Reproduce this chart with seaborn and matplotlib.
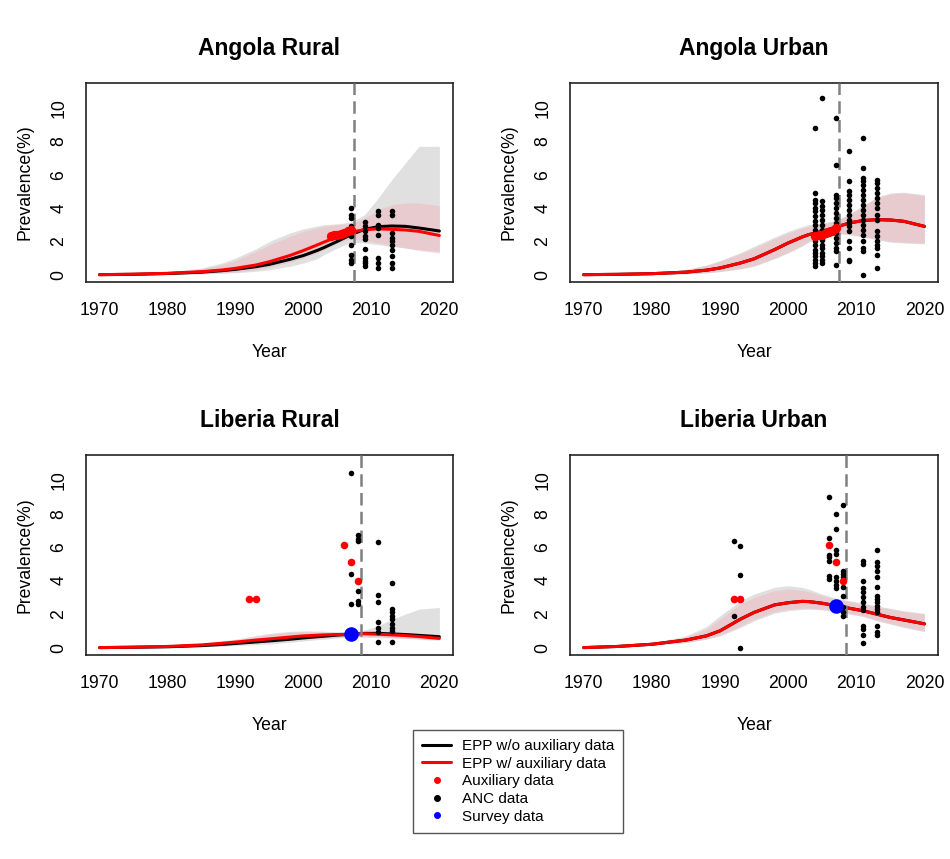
import matplotlib
matplotlib.use("Agg")
import matplotlib.pyplot as plt
from matplotlib.lines import Line2D
import pandas as pd
import seaborn as sns

fit_years = [1970, 1975, 1980, 1985, 1988, 1990, 1993, 1995, 1998, 2000,
             2002, 2003, 2005, 2007, 2009, 2011, 2013, 2015, 2017, 2020]

# ---- Angola Rural ----
ar_wo = [0, 0.02, 0.07, 0.15, 0.24, 0.32, 0.48, 0.62, 0.92, 1.15, 1.45, 1.62, 2.0, 2.4, 2.72, 2.88, 2.92, 2.9, 2.8, 2.62]
ar_w = [0, 0.03, 0.08, 0.18, 0.28, 0.38, 0.58, 0.78, 1.15, 1.45, 1.78, 1.95, 2.28, 2.55, 2.7, 2.75, 2.72, 2.68, 2.6, 2.35]
ar_wo_lo = [0, 0, 0.02, 0.05, 0.09, 0.12, 0.2, 0.3, 0.5, 0.7, 0.95, 1.2, 1.6, 1.95, 1.9, 1.8, 1.7, 1.6, 1.5, 1.4]
ar_wo_hi = [0, 0.05, 0.15, 0.4, 0.7, 1.0, 1.55, 2.0, 2.5, 2.75, 2.92, 3.0, 3.05, 3.15, 3.6, 4.6, 5.7, 6.7, 7.7, 7.7]
ar_w_lo = [0, 0, 0.02, 0.06, 0.1, 0.15, 0.3, 0.45, 0.75, 1.0, 1.3, 1.5, 1.9, 2.15, 2.05, 1.9, 1.75, 1.6, 1.45, 1.3]
ar_w_hi = [0, 0.05, 0.15, 0.35, 0.6, 0.85, 1.4, 1.8, 2.3, 2.6, 2.8, 2.9, 3.0, 3.05, 3.4, 3.9, 4.2, 4.3, 4.3, 4.15]
ar_anc_years = [2007, 2009, 2011, 2013]
ar_anc_prev = [
    [4.0, 3.6, 3.4, 2.9, 2.3, 1.8, 1.2, 0.9, 0.7],
    [3.15, 2.9, 2.6, 2.3, 2.15, 1.55, 1.0, 0.8, 0.7, 0.5],
    [3.8, 3.6, 3.0, 2.8, 2.4, 1.0, 0.7, 0.4],
    [3.8, 3.6, 2.5, 2.2, 2.0, 1.8, 1.5, 1.1, 0.7, 0.4],
]
ar_aux_years = [2004, 2004.5, 2005, 2005.5, 2006, 2006.5, 2007]
ar_aux_prev = [2.35, 2.38, 2.4, 2.45, 2.5, 2.6, 2.7]

# ---- Angola Urban ----
au_wo = [0, 0.02, 0.06, 0.15, 0.27, 0.4, 0.7, 0.95, 1.5, 1.9, 2.25, 2.4, 2.6, 2.85, 3.1, 3.25, 3.3, 3.28, 3.2, 2.9]
au_w = [0, 0.02, 0.06, 0.15, 0.27, 0.4, 0.7, 0.95, 1.5, 1.9, 2.25, 2.4, 2.6, 2.85, 3.1, 3.25, 3.3, 3.28, 3.2, 2.9]
au_wo_lo = [0, 0, 0.02, 0.05, 0.1, 0.18, 0.34, 0.5, 0.95, 1.3, 1.7, 1.95, 2.25, 2.45, 2.4, 2.25, 2.1, 1.95, 1.9, 1.85]
au_wo_hi = [0, 0.05, 0.13, 0.32, 0.58, 0.85, 1.32, 1.7, 2.25, 2.6, 2.88, 3.0, 3.1, 3.25, 3.65, 4.15, 4.65, 4.9, 4.95, 4.8]
au_w_lo = [0, 0, 0.02, 0.06, 0.12, 0.2, 0.38, 0.55, 1.0, 1.35, 1.75, 2.0, 2.3, 2.5, 2.45, 2.3, 2.15, 2.0, 1.95, 1.9]
au_w_hi = [0, 0.05, 0.12, 0.3, 0.55, 0.8, 1.25, 1.6, 2.15, 2.5, 2.78, 2.9, 3.05, 3.2, 3.6, 4.1, 4.6, 4.85, 4.9, 4.75]
au_anc_years = [2004, 2005, 2007, 2009, 2011, 2013]
au_anc_prev = [
    [8.8, 4.9, 4.5, 4.3, 4.0, 3.8, 3.5, 3.2, 3.0, 2.7, 2.5, 2.2, 2.0, 1.8, 1.5, 1.3, 1.1, 0.9, 0.7, 0.5],
    [10.6, 4.4, 4.1, 3.9, 3.6, 3.3, 3.0, 2.7, 2.4, 2.1, 1.8, 1.6, 1.3, 1.1, 0.9, 0.7],
    [9.4, 6.6, 4.8, 4.6, 4.3, 4.0, 3.7, 3.4, 3.1, 2.8, 2.5, 2.2, 1.9, 1.6, 1.4, 0.6],
    [7.4, 5.6, 5.0, 4.8, 4.5, 4.2, 3.9, 3.6, 3.3, 3.1, 2.9, 2.6, 2.0, 1.6, 0.9, 0.8],
    [8.2, 6.4, 5.8, 5.6, 5.4, 5.1, 4.8, 4.5, 4.2, 3.9, 3.6, 3.3, 3.0, 2.7, 2.4, 2.0, 1.6, 1.4, 0.0],
    [5.7, 5.5, 5.2, 4.9, 4.6, 4.3, 4.0, 3.6, 3.3, 2.6, 2.3, 2.0, 1.8, 1.6, 1.2, 0.4],
]
au_aux_years = [2004, 2004.5, 2005, 2005.5, 2006, 2006.5, 2007]
au_aux_prev = [2.35, 2.4, 2.4, 2.5, 2.55, 2.65, 2.8]

# ---- Liberia Rural ----
lr_wo = [0, 0.02, 0.05, 0.12, 0.19, 0.25, 0.34, 0.4, 0.5, 0.58, 0.65, 0.68, 0.75, 0.8, 0.85, 0.85, 0.82, 0.78, 0.73, 0.65]
lr_w = [0, 0.03, 0.07, 0.16, 0.26, 0.33, 0.45, 0.52, 0.63, 0.7, 0.74, 0.76, 0.78, 0.8, 0.83, 0.8, 0.76, 0.72, 0.66, 0.55]
lr_wo_lo = [0, 0, 0.02, 0.06, 0.09, 0.12, 0.18, 0.22, 0.32, 0.4, 0.47, 0.5, 0.58, 0.62, 0.62, 0.6, 0.58, 0.55, 0.52, 0.48]
lr_wo_hi = [0, 0.04, 0.1, 0.25, 0.4, 0.5, 0.72, 0.85, 0.97, 1.0, 0.99, 0.98, 0.95, 0.95, 1.05, 1.3, 1.7, 2.0, 2.3, 2.4]
lr_w_lo = [0, 0, 0.03, 0.08, 0.14, 0.2, 0.29, 0.35, 0.44, 0.5, 0.55, 0.58, 0.62, 0.66, 0.66, 0.64, 0.6, 0.56, 0.5, 0.45]
lr_w_hi = [0, 0.04, 0.1, 0.22, 0.36, 0.45, 0.66, 0.8, 0.92, 0.95, 0.94, 0.92, 0.9, 0.9, 0.9, 0.9, 0.88, 0.85, 0.82, 0.78]
lr_anc_years = [2007, 2008, 2011, 2013]
lr_anc_prev = [
    [10.4, 4.4, 2.6],
    [6.7, 6.5, 6.35, 3.4, 2.8, 2.6],
    [6.3, 3.15, 2.7, 1.55, 1.15, 0.95, 0.35],
    [3.85, 2.3, 2.1, 1.9, 1.7, 1.4, 1.2, 1.0, 0.35],
]
lr_aux_years = [1992, 1993, 2006, 2007, 2008]
lr_aux_prev = [2.9, 2.9, 6.15, 5.1, 3.95]
lr_survey_years = [2007]
lr_survey_prev = [0.82]

# ---- Liberia Urban ----
lu_wo = [0, 0.07, 0.2, 0.45, 0.7, 1.0, 1.7, 2.1, 2.55, 2.68, 2.76, 2.75, 2.65, 2.5, 2.35, 2.2, 2.0, 1.8, 1.65, 1.42]
lu_w = [0, 0.07, 0.2, 0.45, 0.7, 1.0, 1.7, 2.1, 2.55, 2.68, 2.76, 2.75, 2.65, 2.5, 2.35, 2.2, 2.0, 1.8, 1.65, 1.42]
lu_wo_lo = [0, 0.05, 0.15, 0.3, 0.5, 0.7, 1.2, 1.6, 2.05, 2.2, 2.28, 2.3, 2.25, 2.15, 2.0, 1.85, 1.6, 1.4, 1.2, 0.95]
lu_wo_hi = [0, 0.1, 0.28, 0.7, 1.25, 1.9, 2.8, 3.2, 3.6, 3.7, 3.6, 3.5, 3.2, 2.95, 2.8, 2.65, 2.5, 2.35, 2.2, 2.05]
lu_w_lo = [0, 0.05, 0.15, 0.3, 0.52, 0.75, 1.3, 1.7, 2.15, 2.3, 2.35, 2.35, 2.3, 2.2, 2.05, 1.9, 1.65, 1.45, 1.25, 1.0]
lu_w_hi = [0, 0.1, 0.26, 0.62, 1.1, 1.7, 2.6, 3.0, 3.4, 3.5, 3.42, 3.35, 3.1, 2.9, 2.75, 2.6, 2.45, 2.3, 2.15, 2.0]
lu_anc_years = [1992, 1993, 2006, 2007, 2008, 2011, 2013]
lu_anc_prev = [
    [6.35, 1.9],
    [6.05, 4.35, 0.0],
    [9.0, 6.55, 5.55, 5.4, 5.2, 4.3, 4.1],
    [8.0, 7.1, 5.8, 5.6, 4.2, 4.0, 3.75, 3.55],
    [8.5, 4.6, 4.4, 4.2, 4.0, 3.6, 3.1, 2.4, 2.1, 1.9],
    [5.2, 5.0, 4.0, 3.55, 3.3, 3.0, 2.75, 2.45, 2.25, 1.3, 1.1, 0.75, 0.25],
    [5.8, 5.1, 4.9, 4.6, 4.2, 3.6, 3.1, 2.9, 2.7, 2.5, 2.3, 2.1, 1.3, 0.95, 0.75],
]
lu_aux_years = [1992, 1993, 2006, 2007, 2008]
lu_aux_prev = [2.9, 2.9, 6.15, 5.1, 3.95]
lu_survey_years = [2007]
lu_survey_prev = [2.5]

angola_cutoff = 2007.5
liberia_cutoff = 2008.5

x_ticks = [1970, 1980, 1990, 2000, 2010, 2020]
y_ticks = [0, 2, 4, 6, 8, 10]

legend_labels = ["EPP w/o auxiliary data", "EPP w/ auxiliary data",
                 "Auxiliary data", "ANC data", "Survey data"]

sns.set_style("white")
plt.rcParams["font.family"] = ["Liberation Sans", "DejaVu Sans"]
plt.rcParams["text.color"] = "black"
plt.rcParams["axes.labelcolor"] = "black"
plt.rcParams["xtick.color"] = "black"
plt.rcParams["ytick.color"] = "black"

RED = "#ff0000"
GRAY_BAND = "#e0e0e0"
RED_BAND = "#f0b8c0"


def anc_frame(years, prev):
    rows = [(y, v) for y, vals in zip(years, prev) for v in vals]
    return pd.DataFrame(rows, columns=["year", "prev"])


def draw_panel(ax, title, wo, w, wo_lo, wo_hi, w_lo, w_hi, anc_years, anc_prev,
               aux_years, aux_prev, cutoff, aux_size, survey=None):
    ax.fill_between(fit_years, wo_lo, wo_hi, color=GRAY_BAND, lw=0, zorder=1)
    ax.fill_between(fit_years, w_lo, w_hi, color=RED_BAND, alpha=0.5, lw=0, zorder=2)
    sns.lineplot(x=fit_years, y=wo, color="black", lw=2.2, ax=ax, zorder=3)
    sns.lineplot(x=fit_years, y=w, color=RED, lw=2.2, ax=ax, zorder=4)
    ax.axvline(cutoff, color="#808080", lw=1.8, dashes=(5, 2.5), zorder=5)
    anc = anc_frame(anc_years, anc_prev)
    sns.scatterplot(data=anc, x="year", y="prev", color="black", s=16,
                    linewidth=0, ax=ax, zorder=6)
    sns.scatterplot(x=aux_years, y=aux_prev, color=RED, s=aux_size,
                    linewidth=0, ax=ax, zorder=7)
    if survey is not None:
        sns.scatterplot(x=survey[0], y=survey[1], color="#0000ff", s=110,
                        linewidth=0, ax=ax, zorder=8)

    ax.set_xlim(1968, 2022)
    ax.set_ylim(-0.44, 11.5)
    ax.set_xticks(x_ticks)
    ax.set_yticks(y_ticks)
    ax.set_xticklabels([str(t) for t in x_ticks])
    ax.set_yticklabels([str(t) for t in y_ticks], rotation=90, va="center")
    ax.tick_params(axis="both", direction="out", length=6.5, width=1.0,
                   color="#222222", labelsize=12.7, pad=8)
    ax.tick_params(axis="y", pad=7)
    for sp in ax.spines.values():
        sp.set_color("#222222")
        sp.set_linewidth(1.2)
    ax.set_title(title, fontsize=16.5, fontweight="bold", pad=20)
    ax.set_xlabel("Year", fontsize=12.7, labelpad=18)
    ax.set_ylabel("Prevalence(%)", fontsize=12.7, labelpad=12)


fig = plt.figure(figsize=(9.5, 8.59), dpi=100)

ax1 = fig.add_axes([0.0905, 0.6717, 0.3863, 0.2317])
draw_panel(ax1, "Angola Rural", ar_wo, ar_w, ar_wo_lo, ar_wo_hi, ar_w_lo, ar_w_hi,
           ar_anc_years, ar_anc_prev, ar_aux_years, ar_aux_prev, angola_cutoff, 45)

ax2 = fig.add_axes([0.6, 0.6717, 0.3874, 0.2317])
draw_panel(ax2, "Angola Urban", au_wo, au_w, au_wo_lo, au_wo_hi, au_w_lo, au_w_hi,
           au_anc_years, au_anc_prev, au_aux_years, au_aux_prev, angola_cutoff, 45)

ax3 = fig.add_axes([0.0905, 0.2375, 0.3863, 0.2328])
draw_panel(ax3, "Liberia Rural", lr_wo, lr_w, lr_wo_lo, lr_wo_hi, lr_w_lo, lr_w_hi,
           lr_anc_years, lr_anc_prev, lr_aux_years, lr_aux_prev, liberia_cutoff, 30,
           survey=(lr_survey_years, lr_survey_prev))

ax4 = fig.add_axes([0.6, 0.2375, 0.3874, 0.2328])
draw_panel(ax4, "Liberia Urban", lu_wo, lu_w, lu_wo_lo, lu_wo_hi, lu_w_lo, lu_w_hi,
           lu_anc_years, lu_anc_prev, lu_aux_years, lu_aux_prev, liberia_cutoff, 30,
           survey=(lu_survey_years, lu_survey_prev))

handles = [
    Line2D([], [], color="black", lw=2.2),
    Line2D([], [], color=RED, lw=2.2),
    Line2D([], [], color=RED, lw=0, marker="o", markersize=4),
    Line2D([], [], color="black", lw=0, marker="o", markersize=4),
    Line2D([], [], color="#0000ff", lw=0, marker="o", markersize=4),
]
leg = fig.legend(handles, legend_labels, loc="upper left",
                 bbox_to_anchor=(413 / 950, 1 - 730 / 859), borderaxespad=0,
                 fontsize=11.0, frameon=True, fancybox=False, framealpha=1,
                 edgecolor="#555555", handlelength=1.9, handletextpad=0.7,
                 labelspacing=0.24, borderpad=0.6)
leg.get_frame().set_linewidth(1.0)

fig.savefig("out.png", dpi=100)
